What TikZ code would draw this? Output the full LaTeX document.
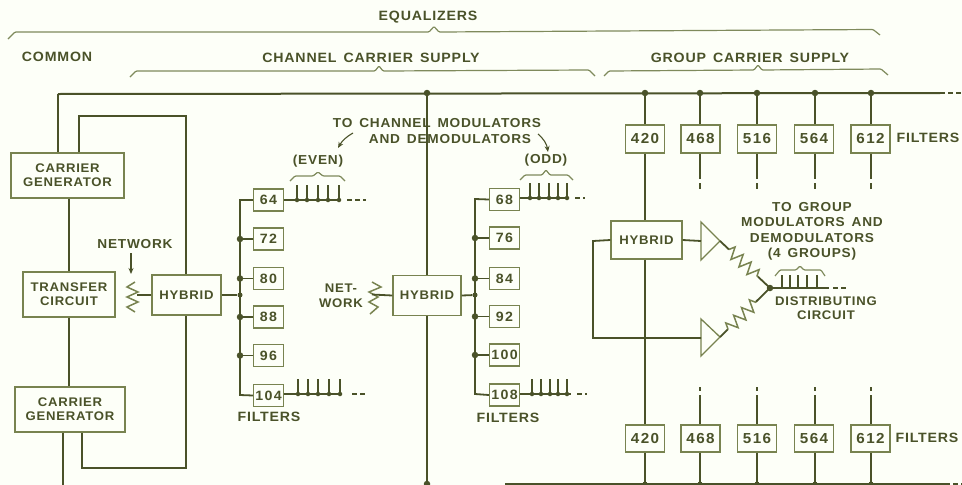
\documentclass[tikz,border=0pt]{standalone}
\usepackage{fontspec}
\setmainfont{Liberation Sans}[BoldFont={Liberation Sans Bold}]
\newfontfamily\lbl{Liberation Sans Bold}[FakeStretch=1.05,LetterSpace=6,WordSpace=1.5]
\newfontfamily\numf{Liberation Sans Bold}[FakeStretch=1.05,LetterSpace=10]
\usetikzlibrary{arrows.meta,decorations.pathmorphing,calc}
\definecolor{ink}{HTML}{4A5229}
\definecolor{boxink}{HTML}{788350}
\definecolor{paper}{HTML}{FDFFF8}
\definecolor{brk}{HTML}{7F8A5C}
\tikzset{
 wire/.style={draw=ink,line width=1.8pt},
 bus/.style={draw=ink,line width=2pt},
 thin wire/.style={draw=ink,line width=1.4pt},
 fbox/.style={draw=boxink,line width=1.3pt,fill=paper,inner sep=0pt,text=ink,font=\lbl\fontsize{12.5}{14}\selectfont,align=center},
 numbox/.style={fbox,font=\numf\fontsize{13.5}{14}\selectfont},
 grpbox/.style={fbox,font=\numf\fontsize{14.5}{14}\selectfont},
 txt/.style={text=ink,font=\lbl\fontsize{13}{15.5}\selectfont,inner sep=0pt,align=center},
 head/.style={txt,font=\lbl\fontsize{13.5}{15}\selectfont},
 small txt/.style={txt,font=\lbl\fontsize{12.5}{14.5}\selectfont},
 jdot/.style={circle,fill=ink,inner sep=0pt,minimum size=6.5pt},
 brace/.style={draw=brk,line width=1.2pt,rounded corners=1pt},
 dash tail/.style={draw=ink,line width=2pt,dash pattern=on 5pt off 3pt},
 res/.style={draw=boxink,line width=1.5pt,decorate},
 res line/.style={draw=ink,line width=1.8pt},
}
\begin{document}
\begin{tikzpicture}[x=1pt,y=-1pt]
\useasboundingbox[fill=paper] (0,0) rectangle (962,485);
% ---- coordinates of the buses
\coordinate (busL) at (58,94);
\coordinate (busR) at (940,93);
\coordinate (busEnd) at (962,93);
\coordinate (lowL) at (505,484);
\coordinate (lowR) at (945,484);
\coordinate (lowEnd) at (962,484);
% ---- common equipment
\node[fbox,minimum width=113pt,minimum height=45pt] (cg1) at (67.5,175.5) {CARRIER\\GENERATOR};
\node[fbox,minimum width=92pt,minimum height=45pt] (tc) at (69,294.5) {TRANSFER\\CIRCUIT};
\node[fbox,minimum width=110pt,minimum height=45pt] (cg2) at (70,409.5) {CARRIER\\GENERATOR};
\node[fbox,minimum width=69pt,minimum height=40pt] (hy1) at (186.5,295) {HYBRID};
\node[fbox,minimum width=68pt,minimum height=40pt] (hy2) at (427,295.5) {HYBRID};
\node[fbox,minimum width=71pt,minimum height=38pt] (hy3) at (646.5,240) {HYBRID};
% ---- filter boxes, channel
\foreach \n/\yy in {64/200,72/239,80/278.5,88/317,96/355.5,104/395.5}
  \node[numbox,minimum width=30pt,minimum height=22pt] (e\n) at (268.5,\yy) {\n};
\foreach \n/\yy in {68/199.5,76/238,84/278.5,92/316.5,100/355,108/395}
  \node[numbox,minimum width=30pt,minimum height=22pt] (o\n) at (504.5,\yy) {\n};
% ---- filter boxes, group
\foreach \n/\xx in {420/645,468/700.5,516/757,564/814,612/870.5} {
  \node[grpbox,minimum width=39pt,minimum height=28pt] (u\n) at (\xx,139) {\n};
  \node[grpbox,minimum width=39pt,minimum height=27pt] (d\n) at (\xx,438.5) {\n};
}
% ---- buses
\draw[bus] (busL) -- (busR);
\draw[dash tail] (busR) -- (busEnd);
\draw[bus] (lowL) -- (lowR);
\draw[dash tail] (lowR) -- (lowEnd);
\draw[wire] (busL) -- (busL |- cg1.north);
\coordinate (lpTL) at (79,116);
\coordinate (lpTR) at (186,116);
\draw[wire] (lpTL |- cg1.north) -- (lpTL) -- (lpTR) -- (lpTR |- hy1.north);
\draw[wire] (tc.north |- cg1.south) -- (tc.north);
\draw[wire] (tc.south) -- (tc.south |- cg2.north);
\coordinate (lpBL) at (82,468);
\coordinate (lpBR) at (186,468);
\draw[wire] (lpBL |- cg2.south) -- (lpBL) -- (lpBR) -- (lpBR |- hy1.south);
\coordinate (cgOut) at (63,485);
\draw[wire] (cgOut |- cg2.south) -- (cgOut);
% ---- centre vertical
\coordinate (cT) at (427,93);
\coordinate (cB) at (427,484);
\draw[wire] (cT) -- (hy2.north);
\draw[wire] (hy2.south) -- (cB);
\node[jdot] (jcT) at (cT) {};
\node[jdot] (jcB) at (cB) {};
% ---- channel filter trees
\coordinate (eTop) at (240,200);
\coordinate (eBot) at (240,395);
\coordinate (oTop) at (475,199);
\coordinate (oBot) at (475,394);
\draw[wire] (e64.west) -- (eTop) -- (eBot) -- (e104.west);
\draw[wire] (o68.west) -- (oTop) -- (oBot) -- (o108.west);
\foreach \n in {72,80,88,96} {
  \node[jdot] (je\n) at (eTop |- e\n.west) {};
  \draw[wire] (je\n) -- (e\n.west);
}
\foreach \n in {76,84,92,100} {
  \node[jdot] (jo\n) at (oTop |- o\n.west) {};
  \draw[wire] (jo\n) -- (o\n.west);
}
\node[jdot,minimum size=5pt] (jh1) at (240,295) {};
\node[jdot,minimum size=5pt] (jh2) at (475,295) {};
\draw[wire] (hy1.east) -- (jh1);
\draw[wire] (hy2.east) -- (jh2);
% ---- tails with ticks
\coordinate (t64) at (340,200);
\coordinate (t104) at (340,394);
\coordinate (t68) at (567,198);
\coordinate (t108) at (571,394);
\coordinate (e64d) at (366,200);
\coordinate (e104d) at (367,394);
\coordinate (o68d) at (585,198);
\coordinate (o108d) at (587,394);
\draw[wire] (e64.east |- t64) -- (t64);
\draw[wire] (e104.east |- t104) -- (t104);
\draw[wire] (o68.east |- t68) -- (t68);
\draw[wire] (o108.east |- t108) -- (t108);
\draw[dash tail] (347,200) -- (e64d);
\draw[dash tail] (352,394) -- (e104d);
\draw[dash tail,line width=1.6pt] (575,198) -- (o68d);
\draw[dash tail,line width=1.6pt] (577,394) -- (o108d);
\foreach \x in {297,307,318,328,339} {
  \draw[thin wire] (\x,185) -- (\x,200);
  \node[jdot,minimum size=4.5pt] at (\x,200) {};
}
\foreach \x in {298,308,318,329,340} {
  \draw[thin wire] (\x,379) -- (\x,394);
  \node[jdot,minimum size=4.5pt] at (\x,394) {};
}
\foreach \x in {530,539,549,558,567} {
  \draw[thin wire] (\x,183) -- (\x,198);
  \node[jdot,minimum size=4.5pt] at (\x,198) {};
}
\foreach \x in {532,541,550,558,567} {
  \draw[thin wire] (\x,379) -- (\x,394);
  \node[jdot,minimum size=4.5pt] at (\x,394) {};
}
% ---- group filter stubs
\foreach \n/\xx in {420/645,468/700,516/757,564/815,612/871} {
  \node[jdot] (jb\n) at (\xx,93) {};
  \draw[wire] (jb\n) -- (jb\n |- u\n.north);
  \coordinate (kd\n) at (\xx,484);
  \node[jdot,minimum size=5pt] (jk\n) at (kd\n) {};
  \draw[wire] (d\n.south -| kd\n) -- (kd\n);
}
\foreach \n/\xx in {468/700,516/757,564/815,612/871} {
  \coordinate (ua\n) at (\xx,179);
  \coordinate (ub\n) at (\xx,183);
  \coordinate (uc\n) at (\xx,189);
  \draw[wire] (ua\n |- u\n.south) -- (ua\n);
  \draw[wire,line width=2pt] (ub\n) -- (uc\n);
  \coordinate (la\n) at (\xx,395);
  \coordinate (lb\n) at (\xx,387);
  \coordinate (lc\n) at (\xx,391);
  \draw[wire] (la\n) -- (la\n |- d\n.north);
  \draw[wire,line width=2pt] (lb\n) -- (lc\n);
}
\draw[wire] (u420.south) -- (u420.south |- hy3.north);
\draw[wire] (hy3.south -| u420.south) -- (d420.north);
% ---- hybrid 3 and amplifiers
\coordinate (a1top) at (701,222);
\coordinate (a1tip) at (720,241);
\coordinate (a1bot) at (701,260);
\coordinate (a2top) at (701,319);
\coordinate (a2tip) at (720,337);
\coordinate (a2bot) at (701,356);
\coordinate (jn) at (770,288);
\draw[boxink,line width=1.3pt,fill=paper] (a1top) -- (a1tip) -- (a1bot) -- cycle;
\draw[boxink,line width=1.3pt,fill=paper] (a2top) -- (a2tip) -- (a2bot) -- cycle;
\coordinate (a1in) at (701,241);
\coordinate (a2in) at (701,338);
\draw[wire] (hy3.east) -- (a1in);
\coordinate (lpH) at (593,241);
\coordinate (lpG) at (593,338);
\draw[wire] (hy3.west) -- (lpH) -- (lpG) -- (a2in);
\draw[res line] (a1tip) -- ($(a1tip)!0.18!(jn)$) ($(a1tip)!0.76!(jn)$) -- (jn);
\draw[res line] (a2tip) -- ($(a2tip)!0.16!(jn)$) ($(a2tip)!0.72!(jn)$) -- (jn);
\draw[res,decoration={zigzag,segment length=11pt,amplitude=6pt}] ($(a1tip)!0.18!(jn)$) -- ($(a1tip)!0.76!(jn)$);
\draw[res,decoration={zigzag,segment length=11pt,amplitude=6pt}] ($(a2tip)!0.16!(jn)$) -- ($(a2tip)!0.72!(jn)$);
\node[jdot] (jjn) at (jn) {};
\coordinate (jnEnd) at (829,288);
\draw[wire] (jjn) -- (jnEnd);
\draw[dash tail,line width=1.8pt] (833,288) -- (846,288);
\foreach \x in {782,790,798,807,817}
  \draw[thin wire] (\x,275) -- (\x,288);
% ---- networks
\draw[res] (135,282) -- (127,287) -- (138,292) -- (127,297) -- (138,302) -- (127,307) -- (135,312);
\draw[res line] (137,295) -- (hy1.west);
\draw[res] (372,282) -- (381,287) -- (369,292) -- (378,297) -- (369,302) -- (378,307) -- (370,314);
\draw[res line] (372,294.5) -- (hy2.west);
% ---- arrows
\coordinate (na) at (131,253);
\coordinate (nb) at (131,274);
\draw[ink,line width=1.1pt,-{Stealth[length=6pt,width=5pt]}] (na) -- (nb);
\coordinate (ca) at (353,133);
\coordinate (cb) at (338,148);
\draw[ink,line width=1.1pt,-{Stealth[length=6pt,width=5pt]}] (ca) to[bend right=15] (cb);
\coordinate (da) at (538,134);
\coordinate (db) at (548,152);
\draw[ink,line width=1.1pt,-{Stealth[length=6pt,width=5pt]}] (da) to[bend left=20] (db);
% ---- braces
\draw[brace] (8,39) -- (15,32) -- (429,32) -- (434,26.5) -- (439,32) -- (873,29.5) -- (880,35);
\draw[brace] (130,77) -- (136,71) -- (375,71) -- (379,66) -- (383,71) -- (589,70) -- (595,76);
\draw[brace] (604,76) -- (609,71) -- (754,70) -- (758,65) -- (762,70) -- (881,69) -- (888,75);
\draw[brace] (290,181) -- (295,176) -- (313,176) -- (318,172) -- (323,176) -- (340,176) -- (345,181);
\draw[brace] (520,180) -- (525,175) -- (542,175) -- (546,170) -- (550,175) -- (568,175) -- (573,180);
\draw[brace] (775,276) -- (780,270) -- (796,270) -- (800,266) -- (804,270) -- (821,270) -- (825,276);
% ---- labels
\node[head] (lEq) at (428,17.5) {EQUALIZERS};
\node[head] (lCo) at (57,57) {COMMON};
\node[head] (lCh) at (371,57.5) {CHANNEL CARRIER SUPPLY};
\node[head] (lGr) at (750,57.5) {GROUP CARRIER SUPPLY};
\node[txt] (lNw) at (135,244) {NETWORK};
\node[small txt,font=\lbl\fontsize{12.5}{15}\selectfont] (lNt) at (341,295.5) {NET-\\WORK};
\node[txt] (lEv) at (318,161) {(EVEN)};
\node[txt] (lOd) at (546,160) {(ODD)};
\node[txt] (lTo) at (437,123) {TO CHANNEL MODULATORS};
\node[txt] (lAn) at (450,139) {AND DEMODULATORS};
\node[head] (lF1) at (269,417) {FILTERS};
\node[head] (lF2) at (508,418) {FILTERS};
\node[head] (lF3) at (928,138) {FILTERS};
\node[head] (lF4) at (927,438) {FILTERS};
\node[txt] (lTg) at (812,231.5) {TO GROUP\\MODULATORS AND\\DEMODULATORS\\(4 GROUPS)};
\node[small txt] (lDi) at (826,308) {DISTRIBUTING\\CIRCUIT};
\end{tikzpicture}
\end{document}
